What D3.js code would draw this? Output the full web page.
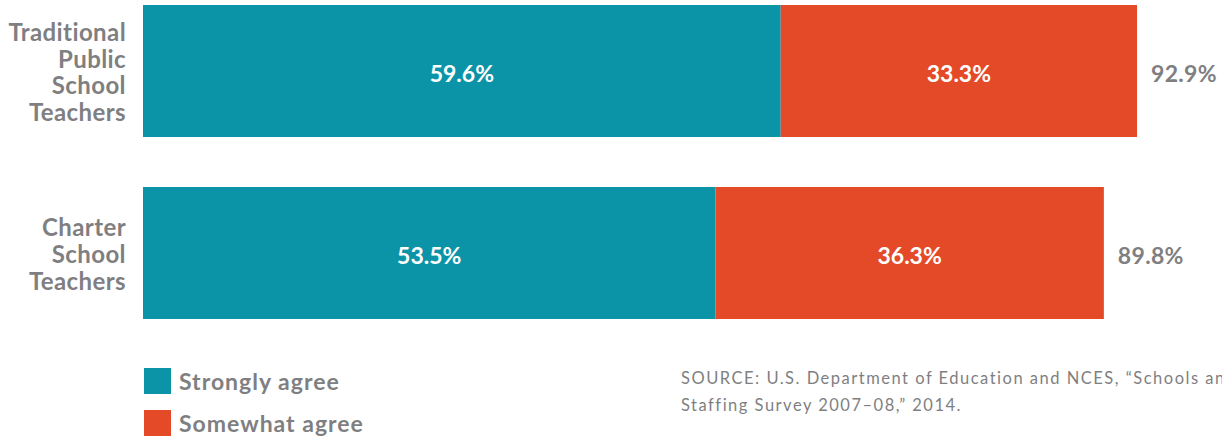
<!DOCTYPE html>
<html>
<head>
<meta charset="utf-8">
<script src="https://cdn.jsdelivr.net/npm/d3@7"></script>
<style>
  html, body { margin: 0; padding: 0; background: #fff; overflow: hidden; }
  svg { display: block; }
  text { font-family: Lato, "Open Sans", sans-serif; }
</style>
</head>
<body>
<div id="chart"></div>
<script>
const categories = [
  ["Traditional", "Public", "School", "Teachers"],
  ["Charter", "School", "Teachers"]
];
const strongly = [59.6, 53.5];
const somewhat = [33.3, 36.3];
const totals = [92.9, 89.8];
const seriesNames = ["Strongly agree", "Somewhat agree"];
const colors = ["#0b94a7", "#e44a27"];
const sourceLines = [
  "SOURCE: U.S. Department of Education and NCES, \u201cSchools and",
  "Staffing Survey 2007\u201308,\u201d 2014."
];

const W = 1222, H = 440;
const margin = {top: 5, left: 143};
const grey = "#7f7f82";

const svg = d3.select("#chart").append("svg")
  .attr("width", W).attr("height", H);

const x = d3.scaleLinear().domain([0, 100]).range([margin.left, margin.left + 1070]);
const y = d3.scaleBand().domain([0, 1]).range([margin.top, 319]).paddingInner(50 / 182).paddingOuter(0);

// stacked segments
const stacked = strongly.map((s, i) => [
  {i, k: 0, x0: 0, x1: s, v: s},
  {i, k: 1, x0: s, x1: s + somewhat[i], v: somewhat[i]}
]).flat();

svg.selectAll("rect.seg").data(stacked).join("rect")
  .attr("class", "seg")
  .attr("x", d => x(d.x0))
  .attr("y", d => y(d.i))
  .attr("width", d => x(d.x1) - x(d.x0))
  .attr("height", y.bandwidth())
  .attr("fill", d => colors[d.k]);

svg.selectAll("text.seg").data(stacked).join("text")
  .attr("class", "seg")
  .attr("x", d => (x(d.x0) + x(d.x1)) / 2)
  .attr("y", d => y(d.i) + y.bandwidth() / 2)
  .attr("dy", "0.48em")
  .attr("text-anchor", "middle")
  .attr("fill", "#fff")
  .attr("font-size", 23)
  .attr("font-weight", 700)
  .text(d => d.v.toFixed(1) + "%");

// totals
svg.selectAll("text.total").data(totals).join("text")
  .attr("class", "total")
  .attr("x", (d, i) => x(strongly[i] + somewhat[i]) + 14)
  .attr("y", (d, i) => y(i) + y.bandwidth() / 2)
  .attr("dy", "0.48em")
  .attr("fill", grey)
  .attr("font-size", 23)
  .attr("font-weight", 700)
  .attr("letter-spacing", 0.3)
  .text(d => d.toFixed(1) + "%");

// category labels
const lineH = 26.7;
categories.forEach((lines, i) => {
  const cy = y(i) + y.bandwidth() / 2;
  const t = svg.append("text")
    .attr("text-anchor", "end")
    .attr("fill", grey)
    .attr("font-size", 24)
    .attr("font-weight", 700)
    .attr("letter-spacing", 0.4);
  lines.forEach((l, j) => {
    t.append("tspan")
      .attr("x", 126)
      .attr("y", cy + (j - (lines.length - 1) / 2) * lineH + 10)
      .text(l);
  });
});

// legend
const legend = svg.append("g").attr("transform", "translate(144,368)");
seriesNames.forEach((n, i) => {
  legend.append("rect")
    .attr("x", 0).attr("y", i * 42)
    .attr("width", 27).attr("height", 26)
    .attr("fill", colors[i]);
  legend.append("text")
    .attr("x", 35).attr("y", i * 42 + 22)
    .attr("fill", grey)
    .attr("font-size", 23)
    .attr("font-weight", 700)
    .attr("letter-spacing", 1)
    .text(n);
});

// source
svg.append("g").selectAll("text").data(sourceLines).join("text")
  .attr("x", 681)
  .attr("y", (d, i) => 384 + i * 27)
  .attr("fill", grey)
  .attr("font-size", 16.5)
  .attr("letter-spacing", 1.5)
  .text(d => d);
</script>
</body>
</html>
